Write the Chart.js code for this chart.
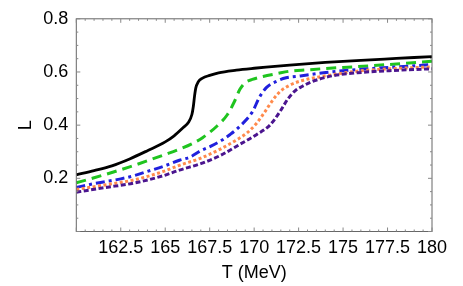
<!DOCTYPE html>
<html>
<head>
<meta charset="utf-8">
<script src="https://cdn.jsdelivr.net/npm/chart.js@4.4.1/dist/chart.umd.min.js"></script>
<style>
  html, body { margin: 0; padding: 0; background: #fff; }
</style>
</head>
<body>
<canvas id="chart" width="463" height="286"></canvas>
<script>
// ── Data: L vs T (MeV) ───────────────────────────────────────
const blackT  = [160, 161, 162, 163, 164, 165, 165.5, 166, 166.3, 166.5, 166.58, 166.65, 166.72, 166.85, 167.1, 167.5, 168, 169, 170, 171, 172, 174, 176, 178, 180];
const blackL  = [0.213, 0.229, 0.247, 0.273, 0.304, 0.337, 0.36, 0.39, 0.41, 0.44, 0.47, 0.51, 0.54, 0.562, 0.577, 0.587, 0.597, 0.607, 0.614, 0.620, 0.626, 0.636, 0.644, 0.651, 0.658];

const greenT  = [160, 161, 162, 163, 164, 165, 165.8, 166.5, 167.1, 167.9, 168.5, 168.9, 169.2, 169.5, 169.9, 170.5, 171.3, 172, 173, 174, 175.8, 178, 180];
const greenL  = [0.183, 0.202, 0.222, 0.243, 0.266, 0.29, 0.31, 0.33, 0.353, 0.396, 0.44, 0.49, 0.535, 0.56, 0.572, 0.583, 0.594, 0.603, 0.608, 0.613, 0.62, 0.63, 0.64];

const blueT   = [160, 161, 161.6, 162.5, 163.25, 164, 164.9, 165.8, 166.4, 167, 167.6, 168.2, 168.65, 169.2, 169.9, 170.3, 170.7, 171.3, 171.8, 172.6, 173.9, 175.8, 177.6, 180];
const blueL   = [0.166, 0.18, 0.187, 0.198, 0.21, 0.226, 0.245, 0.268, 0.28, 0.304, 0.322, 0.344, 0.365, 0.396, 0.45, 0.505, 0.542, 0.566, 0.578, 0.585, 0.597, 0.609, 0.617, 0.628];

const orangeT = [160, 161.6, 163.3, 164.9, 165.8, 167, 168.1, 169, 169.6, 170.15, 170.6, 171.1, 171.5, 172, 172.6, 173.9, 175.8, 177.6, 180];
const orangeL = [0.158, 0.175, 0.195, 0.226, 0.249, 0.276, 0.31, 0.344, 0.371, 0.408, 0.45, 0.499, 0.529, 0.55, 0.566, 0.584, 0.603, 0.612, 0.619];

const purpleT = [160, 161.6, 163.3, 164.9, 165.8, 167, 168.1, 169.2, 170.15, 170.9, 171.5, 171.9, 172.3, 172.6, 173.2, 173.9, 174.5, 175.8, 177.6, 180];
const purpleL = [0.148, 0.165, 0.183, 0.21, 0.231, 0.255, 0.286, 0.328, 0.365, 0.401, 0.456, 0.499, 0.529, 0.542, 0.562, 0.578, 0.587, 0.597, 0.605, 0.612];

const xTicks = [162.5, 165, 167.5, 170, 172.5, 175, 177.5, 180];
const yTicks = [0.2, 0.4, 0.6, 0.8];

// ── Helpers ───────────────────────────────────────────────────
function pts(ts, ls) {
  return ts.map((t, i) => ({ x: t, y: ls[i] }));
}

function series(ts, ls, color, dash, width) {
  return {
    data: pts(ts, ls),
    borderColor: color,
    borderWidth: width,
    borderDash: dash,
    borderCapStyle: 'butt',
    pointRadius: 0,
    fill: false,
    cubicInterpolationMode: 'monotone',
  };
}

// ── Mathematica-style frame with inward major/minor ticks ────
const frameTicks = {
  id: 'frameTicks',
  afterDatasetsDraw(chart) {
    const { ctx, chartArea: a, scales: { x, y } } = chart;
    ctx.save();
    ctx.strokeStyle = '#666';
    ctx.lineWidth = 1;
    ctx.strokeRect(a.left, a.top, a.right - a.left, a.bottom - a.top);
    ctx.strokeStyle = '#888';
    ctx.beginPath();
    for (let i = 0; i <= 40; i++) {
      const px = x.getPixelForValue(160 + i * 0.5);
      const len = i % 5 === 0 ? 4 : 2;
      ctx.moveTo(px, a.bottom); ctx.lineTo(px, a.bottom - len);
      ctx.moveTo(px, a.top); ctx.lineTo(px, a.top + len);
    }
    for (let i = 0; i <= 16; i++) {
      const py = y.getPixelForValue(i * 0.05);
      const len = i % 4 === 0 ? 4 : 2;
      ctx.moveTo(a.left, py); ctx.lineTo(a.left + len, py);
      ctx.moveTo(a.right, py); ctx.lineTo(a.right - len, py);
    }
    ctx.stroke();
    ctx.restore();
  }
};

const tickFont = { family: "'Liberation Sans', Arial, sans-serif", size: 18 };

new Chart(document.getElementById('chart'), {
  type: 'line',
  data: {
    datasets: [
      series(purpleT, purpleL, '#4b158f', [5, 2.5], 3),
      series(orangeT, orangeL, '#ff8a4c', [3, 2.5], 3),
      series(blueT,   blueL,   '#2020dd', [9, 4, 3, 4], 3),
      series(greenT,  greenL,  '#1fc41f', [10, 6], 3),
      series(blackT,  blackL,  '#000000', [], 2.8),
    ]
  },
  options: {
    responsive: false,
    animation: false,
    devicePixelRatio: 1,
    layout: { padding: { top: 12.5, right: 31, left: 0, bottom: 0 } },
    plugins: { legend: { display: false }, tooltip: { enabled: false } },
    scales: {
      x: {
        type: 'linear',
        min: 160, max: 180,
        grid: { display: false, drawTicks: false },
        border: { display: false },
        afterBuildTicks: s => { s.ticks = xTicks.map(v => ({ value: v })); },
        afterFit: s => { s.height = 54.5; },
        ticks: {
          autoSkip: false, maxRotation: 0, minRotation: 0,
          padding: 6, color: '#000', font: tickFont,
          callback: v => String(v),
        },
        title: {
          display: true, text: 'T (MeV)', color: '#000',
          font: tickFont, padding: { top: 0, bottom: 2 },
        },
      },
      y: {
        type: 'linear',
        min: 0, max: 0.8,
        grid: { display: false, drawTicks: false },
        border: { display: false },
        afterBuildTicks: s => { s.ticks = yTicks.map(v => ({ value: v })); },
        afterFit: s => { s.width = 76.3; },
        ticks: {
          padding: 8, color: '#000', font: tickFont,
          callback: v => String(v),
        },
        title: {
          display: true, text: 'L', color: '#000',
          font: tickFont, padding: { top: 15, bottom: 0 },
        },
      },
    },
  },
  plugins: [frameTicks],
});
</script>
</body>
</html>
